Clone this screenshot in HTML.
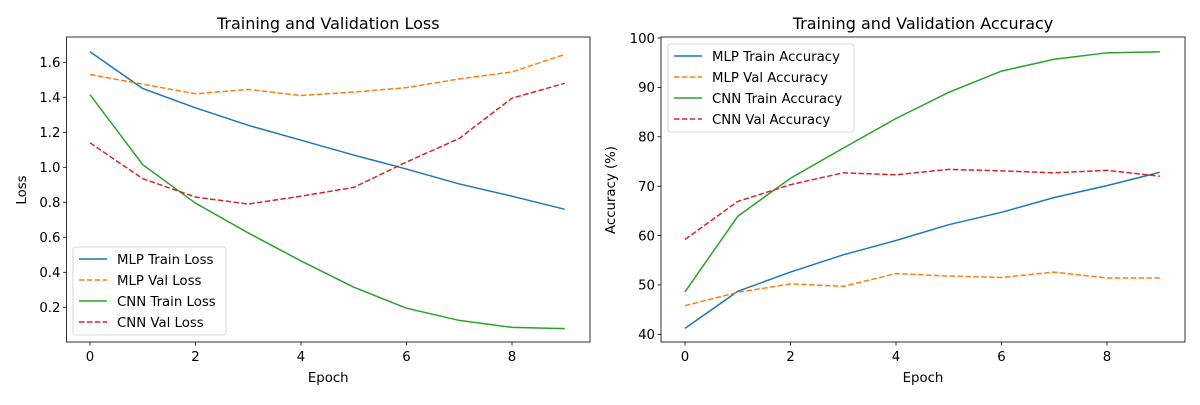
<!DOCTYPE html>
<html><head><meta charset="utf-8"><style>
body{margin:0;background:#fff}
svg{font-family:"DejaVu Sans","Liberation Sans",sans-serif}
</style></head><body>
<svg id="c" width="1200" height="400" xmlns="http://www.w3.org/2000/svg"></svg>
<script>
const epochs=[0,1,2,3,4,5,6,7,8,9];
const mlpTrainLoss=[1.66,1.45,1.34,1.24,1.155,1.07,0.99,0.905,0.835,0.76];
const mlpValLoss=[1.53,1.475,1.42,1.445,1.41,1.43,1.455,1.505,1.545,1.645];
const cnnTrainLoss=[1.415,1.015,0.795,0.625,0.465,0.315,0.195,0.125,0.085,0.078];
const cnnValLoss=[1.14,0.935,0.83,0.79,0.835,0.885,1.03,1.165,1.395,1.48];
const mlpTrainAcc=[41.2,48.7,52.6,56.1,59.0,62.2,64.7,67.7,70.1,72.8];
const mlpValAcc=[45.8,48.5,50.2,49.7,52.3,51.8,51.5,52.6,51.4,51.4];
const cnnTrainAcc=[48.6,63.9,71.6,77.7,83.7,89.0,93.3,95.7,97.0,97.2];
const cnnValAcc=[59.2,66.9,70.3,72.7,72.3,73.4,73.1,72.7,73.2,72.0];
const xTicks=[0,2,4,6,8];
const lossTicks=[0.2,0.4,0.6,0.8,1.0,1.2,1.4,1.6];
const accTicks=[40,50,60,70,80,90,100];
const NS="http://www.w3.org/2000/svg";
const svg=document.getElementById('c');
function el(t,a,p){const e=document.createElementNS(NS,t);for(const k in a)e.setAttribute(k,a[k]);(p||svg).appendChild(e);return e;}
const FS=13.3;
function panel(cfg){
  const g=el('g',{});
  
  
  const X=v=>cfg.x0+(v-0)*(cfg.x1-cfg.x0)/2;
  const Y=v=>cfg.yA+(v-cfg.vA)*(cfg.yB-cfg.yA)/(cfg.vB-cfg.vA);
  cfg.series.forEach(s=>{
    const p=el('polyline',{points:s.data.map((v,i)=>X(epochs[i])+','+Y(v)).join(' '),fill:'none',stroke:s.color,'stroke-width':1.5,'stroke-dasharray':s.dash?'5.5,2.4':'none'},g);
    
    
  });
  const fr=el('rect',{x:cfg.L,y:37,width:cfg.R-cfg.L,height:305,fill:'none',stroke:'#000','stroke-width':0.8},g);
  
  
  xTicks.forEach(t=>{
    el('line',{x1:X(t),x2:X(t),y1:342,y2:345.5,stroke:'#000','stroke-width':0.8},g);
    const tx=el('text',{x:X(t),y:361,'font-size':FS,'text-anchor':'middle'},g);tx.textContent=t;
    
    
  });
  cfg.ticks.forEach(t=>{
    el('line',{x1:cfg.L-3.5,x2:cfg.L,y1:Y(t),y2:Y(t),stroke:'#000','stroke-width':0.8},g);
    const tx=el('text',{x:cfg.L-6,y:Y(t)+4.8,'font-size':FS,'text-anchor':'end'},g);tx.textContent=cfg.fmt(t);
    
    
  });
  const xl=el('text',{x:(cfg.L+cfg.R)/2,y:382,'font-size':FS,'text-anchor':'middle'},g);xl.textContent='Epoch';
  
  
  const yl=el('text',{x:cfg.ylx,y:190,'font-size':FS,'text-anchor':'middle',transform:`rotate(-90 ${cfg.ylx} 190)`},g);yl.textContent=cfg.ylabel;
  
  
  const ti=el('text',{x:(cfg.L+cfg.R)/2,y:29,'font-size':16,'text-anchor':'middle'},g);ti.textContent=cfg.title;
  
  
  const lg=el('g',{},g);
  
  
  el('rect',{x:cfg.lx,y:cfg.ly,width:cfg.lw,height:88,rx:2.5,fill:'#fff','fill-opacity':0.8,stroke:'#ccc','stroke-width':0.8},lg);
  cfg.series.forEach((s,i)=>{
    const yy=cfg.ly+12+i*21;
    el('line',{x1:cfg.lx+6,x2:cfg.lx+34,y1:yy,y2:yy,stroke:s.color,'stroke-width':1.5,'stroke-dasharray':s.dash?'5.5,2.4':'none'},lg);
    const t=el('text',{x:cfg.lx+44,y:yy+4.8,'font-size':FS},lg);t.textContent=s.label;
    
    
  });
}
panel({name:'loss-chart',L:66.5,R:590,x0:90,x1:195.5,yA:62.3,vA:1.6,yB:307.3,vB:0.2,ticks:lossTicks,fmt:v=>v.toFixed(1),
 ylabel:'Loss',ylx:26,title:'Training and Validation Loss',lx:73,ly:247,lw:153,
 series:[{key:'mlp-train-loss-line',label:'MLP Train Loss',data:mlpTrainLoss,color:'#1f77b4'},
 {key:'mlp-val-loss-line',label:'MLP Val Loss',data:mlpValLoss,color:'#ff7f0e',dash:1},
 {key:'cnn-train-loss-line',label:'CNN Train Loss',data:cnnTrainLoss,color:'#2ca02c'},
 {key:'cnn-val-loss-line',label:'CNN Val Loss',data:cnnValLoss,color:'#d62728',dash:1}]});
panel({name:'accuracy-chart',L:661,R:1185,x0:685,x1:790.5,yA:38,vA:100,yB:334.3,vB:40,ticks:accTicks,fmt:v=>String(v),
 ylabel:'Accuracy (%)',ylx:615,title:'Training and Validation Accuracy',lx:668,ly:44,lw:186,
 series:[{key:'mlp-train-acc-line',label:'MLP Train Accuracy',data:mlpTrainAcc,color:'#1f77b4'},
 {key:'mlp-val-acc-line',label:'MLP Val Accuracy',data:mlpValAcc,color:'#ff7f0e',dash:1},
 {key:'cnn-train-acc-line',label:'CNN Train Accuracy',data:cnnTrainAcc,color:'#2ca02c'},
 {key:'cnn-val-acc-line',label:'CNN Val Accuracy',data:cnnValAcc,color:'#d62728',dash:1}]});
</script>
</body></html>
